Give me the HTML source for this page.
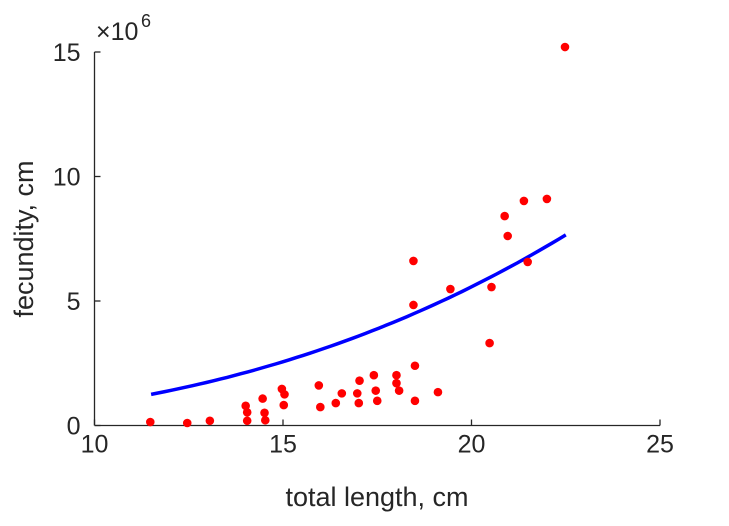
<!DOCTYPE html>
<html><head><meta charset="utf-8"><style>
body{margin:0;background:#fff;}
svg text{font-family:"Liberation Sans",sans-serif;fill:#262626;}
</style></head><body>
<svg width="729" height="521" xmlns="http://www.w3.org/2000/svg">
<g id="root"></g>
</svg>
<script>
const xs=[11.48,12.46,13.06,14.01,14.05,14.05,14.46,14.51,14.53,14.97,15.04,15.02,15.95,15.99,16.40,16.56,17.03,16.97,17.01,17.41,17.46,17.50,18.01,18.01,18.08,18.50,18.50,19.11,18.46,18.46,19.44,20.48,20.53,20.88,20.96,21.49,21.39,22.0,22.48];
const ys=[0.14,0.10,0.19,0.79,0.53,0.19,1.08,0.51,0.21,1.47,1.25,0.82,1.61,0.74,0.90,1.29,1.80,1.29,0.90,2.02,1.40,0.99,2.02,1.70,1.40,2.40,0.99,1.34,4.84,6.61,5.48,3.31,5.56,8.41,7.61,6.57,9.02,9.10,15.2];
const fitParams=[1.25,11.5,2.70];
const fitRange=[11.5,22.5];
const xTicks=[10,15,20,25];
const yTicks=[0,5,10,15];
const X0=94.5,X1=660,Y0=425.5,Y1=52;
const sx=v=>X0+(v-10)/15*(X1-X0);
const sy=v=>Y0-v/15*(Y0-Y1);
const NS="http://www.w3.org/2000/svg";
const root=document.getElementById('root');
function mk(t,a,txt){const e=document.createElementNS(NS,t);for(const k in a)e.setAttribute(k,a[k]);if(txt!==undefined)e.textContent=txt;root.appendChild(e);return e;}
let e;
e=mk('line',{x1:X0,y1:Y0,x2:X1,y2:Y0,stroke:'#262626','stroke-width':1.3});


e=mk('line',{x1:X0,y1:Y0,x2:X0,y2:Y1,stroke:'#262626','stroke-width':1.3});


xTicks.forEach(v=>{
 e=mk('line',{x1:sx(v),y1:Y0,x2:sx(v),y2:Y0-6,stroke:'#262626','stroke-width':1.3});
 
 
 e=mk('text',{x:sx(v),y:Y0+27,'text-anchor':'middle','font-size':25},String(v));
 
 
});
yTicks.forEach(v=>{
 e=mk('line',{x1:X0,y1:sy(v),x2:X0+6,y2:sy(v),stroke:'#262626','stroke-width':1.3});
 
 
 e=mk('text',{x:X0-14,y:sy(v)+9,'text-anchor':'end','font-size':25},String(v));
 
 
});
e=mk('text',{x:96,y:40,'font-size':25},'\u00d710');


e=mk('text',{x:141,y:27,'font-size':18},'6');


e=mk('text',{x:377,y:506,'text-anchor':'middle','font-size':27},'total length, cm');


e=mk('text',{x:0,y:0,'text-anchor':'middle','font-size':27,transform:'translate(33,239) rotate(-90)'},'fecundity, cm');


let d='';
for(let i=0;i<=60;i++){const x=fitRange[0]+(fitRange[1]-fitRange[0])*i/60;const y=fitParams[0]*Math.pow(x/fitParams[1],fitParams[2]);d+=(i?'L':'M')+sx(x).toFixed(1)+','+sy(y).toFixed(1);}
e=mk('path',{d:d,fill:'none',stroke:'#0000ff','stroke-width':3.5});


xs.forEach((x,i)=>{
 e=mk('circle',{cx:sx(x),cy:sy(ys[i]),r:4.3,fill:'#ff0000'});
 
 
});
</script>
</body></html>
